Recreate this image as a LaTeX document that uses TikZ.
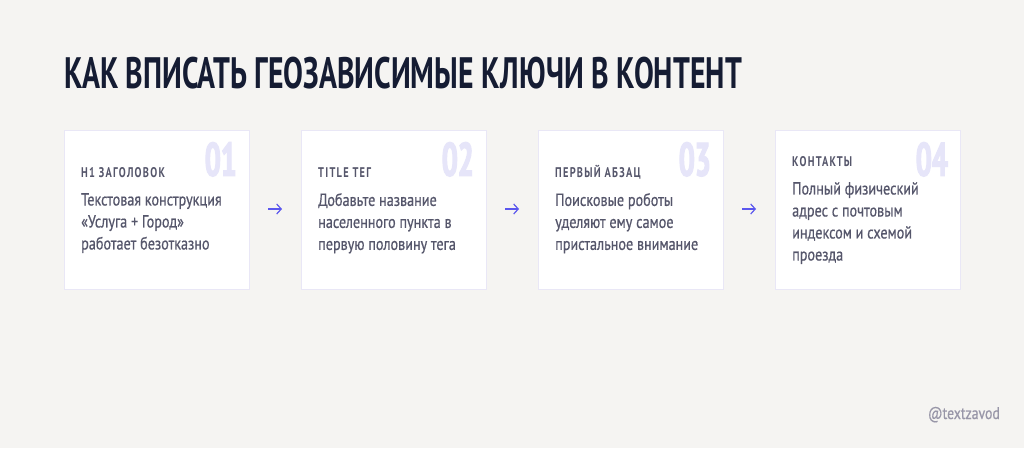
\documentclass[tikz,border=0pt]{standalone}
\usepackage{fontspec}
\usetikzlibrary{arrows.meta}
\setmainfont{PT Sans}
\newfontfamily\titlefont{PT Sans}[BoldFont={PT Sans Bold}, FakeStretch=0.675]
\newfontfamily\numfont{PT Sans Bold}[FakeStretch=0.6, FakeBold=2.5]
\newfontfamily\capsfont{PT Sans}[BoldFont={PT Sans Bold}, FakeStretch=0.74, LetterSpace=9]
\newfontfamily\cardfont{PT Sans}[FakeStretch=0.81, FakeBold=0.6]
\definecolor{bgcol}{HTML}{F5F4F2}
\definecolor{titlecol}{HTML}{151C33}
\definecolor{boxline}{HTML}{E9E7F6}
\definecolor{numcol}{HTML}{E6E5F9}
\definecolor{txtcol}{HTML}{55566B}
\definecolor{arrcol}{HTML}{5B57EE}
\definecolor{tagcol}{HTML}{9896A8}
\begin{document}
\begin{tikzpicture}[x=1pt, y=-1pt,
    card/.style={draw=boxline, line width=1pt, fill=white, minimum width=185pt, minimum height=159pt, anchor=north west, inner sep=0pt},
    num/.style={anchor=north east, inner sep=0pt, text=numcol, font=\numfont\fontsize{47}{47}\selectfont},
    head/.style={anchor=base west, inner sep=0pt, text=txtcol, font=\capsfont\bfseries\fontsize{14}{14}\selectfont},
    body/.style={anchor=north west, inner sep=0pt, align=left, text=txtcol, font=\cardfont\fontsize{17.5}{22}\selectfont},
    step arrow/.style={-{Straight Barb[length=4.5pt, width=10pt]}, arrcol, line width=1.2pt}]
    \useasboundingbox[fill=bgcol] (0,0) rectangle (1024,448);
    \node(title) at(64, 88) [anchor=base west, inner sep=0pt, text=titlecol, font=\titlefont\bfseries\fontsize{44}{44}\selectfont] {КАК ВПИСАТЬ ГЕОЗАВИСИМЫЕ КЛЮЧИ В КОНТЕНТ};
    % cards
    \node(card_a) at(64, 130)  [card] {};
    \node(card_b) at(301, 130) [card] {};
    \node(card_c) at(538, 130) [card] {};
    \node(card_d) at(775, 130) [card] {};
    \node(num_a) at(237, 142) [num] {01};
    \node(num_b) at(474, 142) [num] {02};
    \node(num_c) at(711, 142) [num] {03};
    \node(num_d) at(948, 142) [num] {04};
    \node(head_a) at(81, 177)  [head] {H1 ЗАГОЛОВОК};
    \node(head_b) at(318, 177) [head] {TITLE ТЕГ};
    \node(head_c) at(555, 177) [head] {ПЕРВЫЙ АБЗАЦ};
    \node(head_d) at(792, 166) [head] {КОНТАКТЫ};
    \node(body_a) at(81, 193)  [body] {Текстовая конструкция\\«Услуга + Город»\\работает безотказно};
    \node(body_b) at(318, 193) [body] {Добавьте название\\населенного пункта в\\первую половину тега};
    \node(body_c) at(555, 193) [body] {Поисковые роботы\\уделяют ему самое\\пристальное внимание};
    \node(body_d) at(792, 182) [body] {Полный физический\\адрес с почтовым\\индексом и схемой\\проезда};
    % arrows
    \coordinate(arr_a1) at(268, 209);
    \coordinate(arr_a2) at(282, 209);
    \coordinate(arr_b1) at(505, 209);
    \coordinate(arr_b2) at(519, 209);
    \coordinate(arr_c1) at(742, 209);
    \coordinate(arr_c2) at(756, 209);
    \draw[step arrow] (arr_a1) -- (arr_a2);
    \draw[step arrow] (arr_b1) -- (arr_b2);
    \draw[step arrow] (arr_c1) -- (arr_c2);
    \node(tag) at(1000, 419) [anchor=base east, inner sep=0pt, text=tagcol, font=\cardfont\fontsize{17}{17}\selectfont] {@textzavod};
\end{tikzpicture}
\end{document}
